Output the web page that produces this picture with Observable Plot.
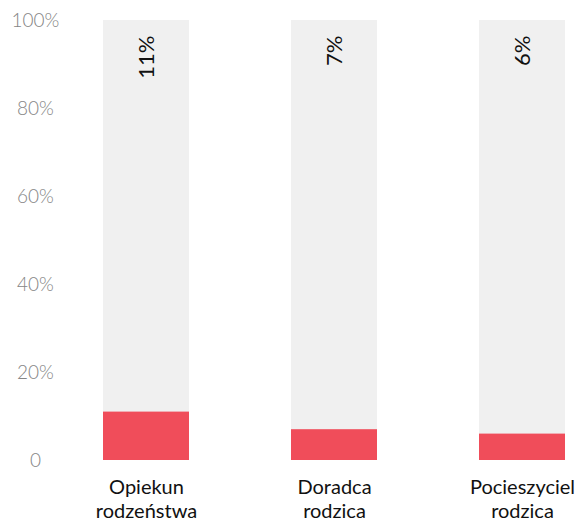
<!DOCTYPE html>
<html>
<head>
<meta charset="utf-8">
<script src="https://cdn.jsdelivr.net/npm/d3@7"></script>
<script src="https://cdn.jsdelivr.net/npm/@observablehq/plot@0.6"></script>
<style>
  html, body { margin: 0; padding: 0; background: #fff; }
  #chart { font-family: Lato, sans-serif; }
</style>
</head>
<body>
<div id="chart"></div>
<script>
const categories = ["Opiekun\nrodzeństwa", "Doradca\nrodzica", "Pocieszyciel\nrodzica"];
const values = [11, 7, 6];
const total = [100, 100, 100];
const yTicks = [0, 20, 40, 60, 80, 100];

const data = categories.map((c, i) => ({category: c, value: values[i], total: total[i]}));

const chart = Plot.plot({
  width: 583,
  height: 522,
  marginTop: 20,
  marginBottom: 62,
  marginLeft: 102,
  marginRight: 18,
  style: {fontFamily: "Lato, sans-serif", background: "#fff"},
  x: {domain: categories, paddingInner: 0.545, paddingOuter: 0, label: null},
  y: {domain: [0, 100], label: null},
  marks: [
    Plot.barY(data, {x: "category", y: "total", fill: "#f0f0f0"}),
    Plot.barY(data, {x: "category", y: "value", fill: "#f04d5a"}),
    Plot.text(data, {x: "category", y: "total", text: d => d.value + "%", rotate: -90, textAnchor: "end", dy: 15, fontSize: 22, fill: "#111"}),
    Plot.axisY({ticks: yTicks, tickSize: 0, tickPadding: 67, textAnchor: "middle", tickFormat: d => d === 0 ? "0" : d + "%", fontSize: 19, fontWeight: 300, fill: "#858585", label: null}),
    Plot.axisX({tickSize: 0, tickPadding: 16, fontSize: 20, fill: "#111", lineHeight: 1.2, label: null})
  ]
});
document.getElementById("chart").appendChild(chart);
</script>
</body>
</html>
